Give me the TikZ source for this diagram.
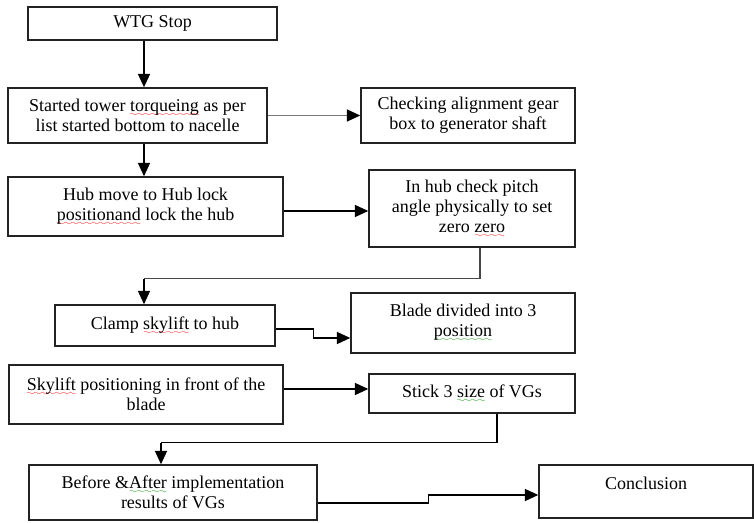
\documentclass[tikz,border=0pt]{standalone}
\usepackage{fontspec}
\setmainfont{Liberation Serif}
\usetikzlibrary{arrows.meta,calc}

% spelling marks under words
\font\sixly=lasy6
\newcommand\wavy[2]{\leavevmode\setbox0\hbox{#2}\rlap{\textcolor{#1}{\lower3.5pt\hbox to\wd0{\xleaders\hbox{\sixly\char58}\hfil}}}\box0\relax}

\tikzset{
  box/.style={draw={rgb,255:red,35;green,35;blue,35}, line width=1.1pt, align=center, inner sep=2pt, font=\fontsize{13.5}{15}\selectfont},
  flow/.style={line width=1pt, -{Triangle[length=10pt,width=9pt,color=black]}},
  link/.style={line width=1pt},
}

\begin{document}
\begin{tikzpicture}[x=0.75pt,y=0.75pt,yscale=-1]
\useasboundingbox (0,0) rectangle (754,523);

% Text Node
\node[box, minimum width=186.75pt, minimum height=24.75pt] (stop) at (152.5,23.5) {WTG Stop};
% Text Node
\node[box, minimum width=194.25pt, minimum height=41.25pt] (torque) at (137.5,115.5) {Started tower \wavy{red}{torqueing} as per\\list started bottom to nacelle};
% Text Node
\node[box, minimum width=160.5pt, minimum height=41.25pt] (align) at (468,115.5) {Checking alignment gear\\box to generator shaft};
% Text Node
\node[box, minimum width=206.25pt, minimum height=44.25pt] (hub) at (145.5,206.5) {Hub move to Hub lock\\\wavy{red}{positionand} lock the hub};
% Text Node
\node[box, minimum width=154.5pt, minimum height=57.75pt] (pitch) at (472,208.5) {In hub check pitch\\angle physically to set\\zero \wavy{red}{zero}};
% Text Node
\node[box, minimum width=165pt, minimum height=30.75pt] (clamp) at (165,325.5) {Clamp \wavy{red}{skylift} to hub};
% Text Node
\node[box, minimum width=168pt, minimum height=45pt] (blade) at (463,323) {Blade divided into 3\\\wavy{green!55!black}{position}};
% Text Node
\node[box, minimum width=205.5pt, minimum height=44.25pt] (skylift) at (146,394.5) {\wavy{red}{Skylift} positioning in front of the\\blade};
% Text Node
\node[box, minimum width=154.5pt, minimum height=29.25pt] (stick) at (472,393.5) {Stick 3 \wavy{green!55!black}{size} of VGs};
% Text Node
\node[box, minimum width=216pt, minimum height=41.25pt] (result) at (173,492.5) {Before \&\wavy{green!55!black}{After} implementation\\results of VGs};
% Text Node
\node[box, minimum width=160.5pt, minimum height=39.75pt, text depth=12pt] (concl) at (646,491.5) {Conclusion};

% bend points
\coordinate (s1) at ($(stop.south)+(-8.5,0)$);
\coordinate (s2) at ($(torque.south)+(6.5,0)$);
\coordinate (h1) at ($(hub.east)+(0,4.5)$);
\coordinate (p1) at ($(pitch.south)+(8,31)$);
\coordinate (p2) at ($(clamp.north)+(-21,-27)$);
\coordinate (c1) at ($(clamp.east)+(38,3.5)$);
\coordinate (c2) at ($(c1)+(0,9)$);
\coordinate (k1) at ($(skylift.east)+(0,-5.5)$);
\coordinate (t1) at ($(stick.south)+(25,29)$);
\coordinate (t2) at ($(result.north)+(-12,-23)$);
\coordinate (r1) at ($(result.east)+(111,10.5)$);
\coordinate (r2) at ($(r1)+(0,-8)$);

% Straight Lines
\draw[flow] (s1) -- (s1 |- torque.north);
\draw[flow] (s2) -- (s2 |- hub.north);
\draw[flow, color={rgb,255:red,120;green,120;blue,120}] (torque.east) -- (align.west);
\draw[flow] (h1) -- (h1 -| pitch.west);
\draw[link, color={rgb,255:red,70;green,70;blue,70}] (p1 |- pitch.south) -- (p1) -- (p1 -| p2);
\draw[flow] (p1 -| p2) -- (p2 |- clamp.north);
\draw[flow] (clamp.east |- c1) -- (c1) -- (c2) -- (c2 -| blade.west);
\draw[flow] (k1) -- (k1 -| stick.west);
\draw[link] (t1 |- stick.south) -- (t1) -- (t1 -| t2);
\draw[flow] (t1 -| t2) -- (t2 |- result.north);
\draw[flow] (result.east |- r1) -- (r1) -- (r2) -- (r2 -| concl.west);

\end{tikzpicture}
\end{document}
